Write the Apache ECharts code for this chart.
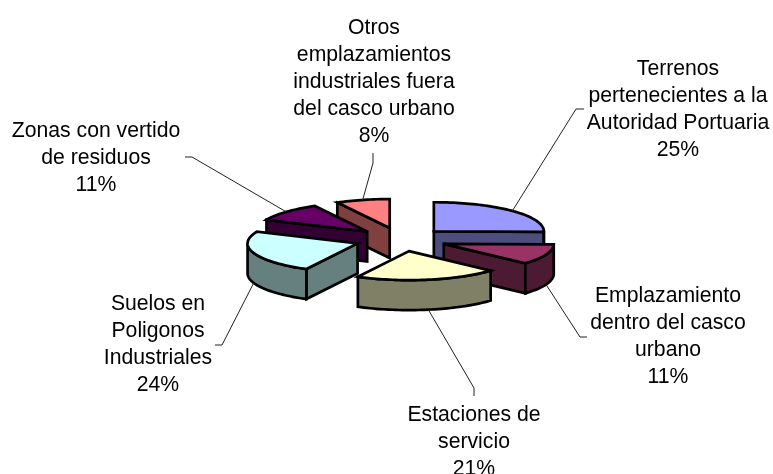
<!DOCTYPE html>
<html>
<head>
<meta charset="utf-8">
<style>html,body{margin:0;padding:0;background:#fff}#c{width:773px;height:474px}</style>
<script src="https://cdn.jsdelivr.net/npm/echarts@6/dist/echarts.min.js"></script>
</head>
<body>
<div id="c"></div>
<script>
const categories = [
  "Terrenos\npertenecientes a la\nAutoridad Portuaria",
  "Emplazamiento\ndentro del casco\nurbano",
  "Estaciones de\nservicio",
  "Suelos en\nPoligonos\nIndustriales",
  "Zonas con vertido\nde residuos",
  "Otros\nemplazamientos\nindustriales fuera\ndel casco urbano"
];
// shares; labels show them rounded
const values = [25.3, 11.4, 21.0, 23.9, 10.5, 7.9];
const topColors = ["#9999FF", "#993366", "#FFFFCC", "#CCFFFF", "#660066", "#FF8080"];
const sideColors = ["#4D4D80", "#4D1A33", "#808066", "#668080", "#330033", "#804040"];

// layout of the exploded, tilted pie (pixels)
const geo = { cx: 401, cy: 239.5, rx: 110, ry: 29, depth: 30, ex: 46, ey: 11.8 };
// label centre + leader elbow + leader end, per slice
const place = [
  { x: 678, y: 109.5, elbow: [576, 109], end: [584, 109] },
  { x: 668, y: 337, elbow: [580, 337], end: [587, 337] },
  { x: 474, y: 442, elbow: [474, 388], end: [474, 396] },
  { x: 158, y: 345, elbow: [222, 345], end: [215, 345] },
  { x: 96, y: 158, elbow: [192, 157], end: [185, 157] },
  { x: 374, y: 82, elbow: [373, 163], end: [373, 153] }
];

const total = values.reduce((a, b) => a + b, 0);
const spans = [];
values.reduce((acc, v) => {
  const start = acc / total * 2 * Math.PI - Math.PI / 2;
  const end = (acc + v) / total * 2 * Math.PI - Math.PI / 2;
  spans.push({ start, end, mid: (start + end) / 2 });
  return acc + v;
}, 0);
// painter's order: back slices first
const ranks = spans.map((s, i) => i).sort((a, b) => Math.sin(spans[a].mid) - Math.sin(spans[b].mid));

function renderItem(params, api) {
  const i = api.value(1);
  const s = spans[i];
  const rank = ranks.indexOf(i);
  const ax = geo.cx + geo.ex * Math.cos(s.mid);
  const ay = geo.cy + geo.ey * Math.sin(s.mid);
  const pt = (phi, dz) => [ax + geo.rx * Math.cos(phi), ay + geo.ry * Math.sin(phi) + (dz || 0)];
  const arc = (a, b, dz) => {
    const out = [];
    const n = Math.max(2, Math.ceil((b - a) / 0.03));
    for (let k = 0; k <= n; k++) out.push(pt(a + (b - a) * k / n, dz));
    return out;
  };
  const face = (points, fill, z) => ({
    type: 'polygon', z2: rank * 10 + z,
    shape: { points },
    style: { fill, stroke: '#000', lineWidth: 2.7, lineJoin: 'miter', miterLimit: 4 }
  });
  const children = [];
  const side = sideColors[i];
  // radial faces
  const radial = phi => face([[ax, ay], pt(phi), pt(phi, geo.depth), [ax, ay + geo.depth]], side, 1);
  if (Math.cos(s.start) < 0) children.push(radial(s.start));
  if (Math.cos(s.end) > 0) children.push(radial(s.end));
  // outer wall, only where it faces the viewer
  const ws = Math.max(s.start, 0), we = Math.min(s.end, Math.PI);
  if (we > ws) {
    children.push(face(arc(ws, we, 0).concat(arc(ws, we, geo.depth).reverse()), side, 2));
  }
  // top
  children.push(face([[ax, ay]].concat(arc(s.start, s.end, 0)), topColors[i], 3));

  // leader
  const p = place[i];
  const front = Math.sin(s.mid) > 0;
  const from = pt(s.mid, front ? geo.depth : 0);
  children.push({
    type: 'polyline', z2: 90,
    shape: { points: [from, p.elbow, p.end] },
    style: { fill: null, stroke: '#222', lineWidth: 1 }
  });
  // label
  children.push({
    type: 'text', z2: 100,
    style: {
      x: p.x, y: p.y,
      text: categories[i] + '\n' + Math.round(api.value(0)) + '%',
      align: 'center', verticalAlign: 'middle',
      fill: '#000', lineHeight: 27,
      font: '21.2px "Liberation Sans", Arial, sans-serif'
    }
  });
  return { type: 'group', children };
}

const chart = echarts.init(document.getElementById('c'), null, { renderer: 'canvas' });
chart.setOption({
  animation: false,
  backgroundColor: '#fff',
  series: [{
    type: 'custom',
    coordinateSystem: 'none',
    silent: true,
    clip: false,
    renderItem,
    data: values.map((v, i) => [v, i])
  }]
});
</script>
</body>
</html>
